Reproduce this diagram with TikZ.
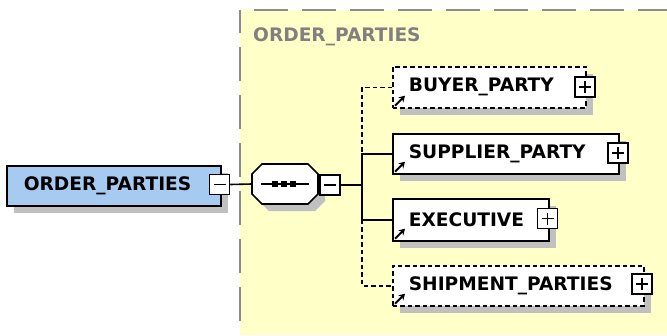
\documentclass[tikz,border=0pt]{standalone}
\usepackage{fontspec}
\setmainfont{DejaVu Sans}
\usetikzlibrary{shadows,arrows.meta}
\definecolor{bgyellow}{RGB}{255,255,200}
\definecolor{bordergray}{RGB}{140,140,140}
\definecolor{shgray}{RGB}{192,192,192}
\definecolor{opblue}{RGB}{166,202,240}
\definecolor{headgray}{RGB}{128,128,128}
\tikzset{
  lbl/.style={font=\fontsize{18.6}{21}\selectfont\bfseries},
  shadowed/.style={general shadow={shadow xshift=7pt,shadow yshift=-7pt,fill=shgray,draw=none}},
  elem/.style={lbl,draw=black,fill=white,line width=1.7pt,anchor=north west,
    inner xsep=16pt,inner ysep=0pt,align=left,shadowed},
  optelem/.style={elem,dash pattern=on 4.5pt off 3pt},
  pmbox/.style={draw=black,fill=white,line width=1.5pt,minimum size=20pt,inner sep=0pt},
  plusbox/.style={pmbox,path picture={\draw[line width=1.5pt] (path picture bounding box.center) +(-6,0) -- +(6,0) +(0,-6) -- +(0,6);}},
  minusbox/.style={pmbox,path picture={\draw[line width=1.5pt] (path picture bounding box.center) +(-6,0) -- +(6,0);}},
  conn/.style={line width=1.6pt,black},
  optconn/.style={conn,dash pattern=on 4.5pt off 3pt},
  refarrow/.style={line width=2pt,-{Stealth[length=6pt,width=7pt]}},
  grpborder/.style={bordergray,line width=1.8pt,dash pattern=on 34pt off 14pt}
}
\begin{document}
\begin{tikzpicture}[x=1pt,y=-1pt]
\useasboundingbox (0,0) rectangle (667,335);
% group area
\fill[bgyellow] (240,10) rectangle (667,335);
\draw[grpborder,dash phase=11pt] (240,10) -- (240,335);
\draw[grpborder,dash phase=34pt] (240,10) -- (667,10);
\node[lbl,text=headgray,anchor=west,inner sep=0pt] (grp) at (253,37) {ORDER\_PARTIES};

% left element
\node[elem,fill=opblue,minimum width=214pt,minimum height=40pt,text width=180pt,inner xsep=17pt] (op) at (6,165) {ORDER\_PARTIES};
\node[minusbox] (opm) at (219.5,184.5) {};

% sequence compositor
\fill[shgray] (259,181)--(269,171)--(315,171)--(325,181)--(325,201)--(315,211)--(269,211)--(259,201)--cycle;
\draw[line width=1.6pt,fill=white] (252,174)--(262,164)--(308,164)--(318,174)--(318,194)--(308,204)--(262,204)--(252,194)--cycle;
\node[minimum width=66pt,minimum height=40pt,inner sep=0pt] (seq) at (285,184) {};
\draw[line width=1.6pt] (261,184) -- (309,184);
\foreach \xx in {275,284,293} \fill (\xx-3,181) rectangle (\xx+3,187);

\node[minusbox] (seqm) at (330,185) {};

\draw[conn] (opm.east) -- (seq.west);
\coordinate (bus) at (362,185);
\draw[conn] (seqm.east) -- (bus);

% child elements
\node[optelem,minimum width=193pt,minimum height=41pt,text width=161pt] (buyer) at (392,66) {BUYER\_PARTY};
\node[plusbox] (buyerp) at (585,87) {};
\node[elem,minimum width=226pt,minimum height=40pt,text width=194pt] (supplier) at (392,133) {SUPPLIER\_PARTY};
\node[plusbox] (supplierp) at (618,153) {};
\node[elem,minimum width=156pt,minimum height=42pt,text width=124pt] (executive) at (392,198) {EXECUTIVE};
\node[plusbox] (executivep) at (547.5,218.5) {};
\node[optelem,minimum width=251pt,minimum height=40pt,text width=219pt] (shipment) at (392,265) {SHIPMENT\_PARTIES};
\node[plusbox] (shipmentp) at (642,284) {};

\foreach \n in {buyer,supplier,executive,shipment}
  \draw[refarrow] ([shift={(3,-3)}]\n.south west) -- ([shift={(13,-13)}]\n.south west);

% connectors
\draw[optconn] (buyer.west) -- (buyer.west -| bus) -- (supplier.west -| bus);
\draw[conn] (supplier.west) -- (supplier.west -| bus) -- (executive.west -| bus) -- (executive.west);
\draw[optconn] (executive.west -| bus) -- (shipment.west -| bus) -- (shipment.west);
\end{tikzpicture}
\end{document}
